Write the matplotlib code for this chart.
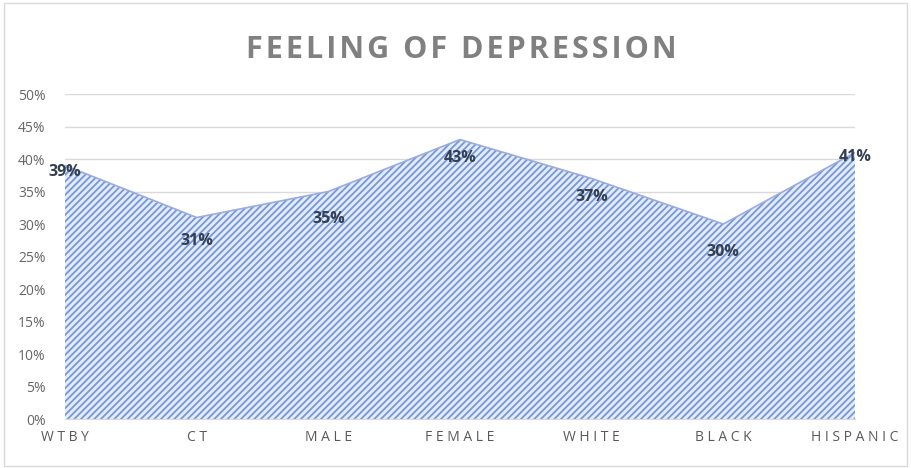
import numpy as np
import matplotlib.pyplot as plt
from matplotlib import rcParams
from matplotlib.patches import Rectangle

rcParams['font.family'] = ['Open Sans', 'DejaVu Sans']
rcParams['hatch.linewidth'] = 1.3

categories = ['WTBY', 'CT', 'MALE', 'FEMALE', 'WHITE', 'BLACK', 'HISPANIC']
values = [0.39, 0.31, 0.35, 0.43, 0.37, 0.30, 0.41]
yticks = [0, 0.05, 0.10, 0.15, 0.20, 0.25, 0.30, 0.35, 0.40, 0.45, 0.50]

# label offsets in points (style only)
lab_dy = [-5, -17, -20, -13, -13, -20, -3]

fig = plt.figure(figsize=(9.11, 4.68), dpi=100)
fig.patches.append(Rectangle((0.004, 0.004), 0.992, 0.99, transform=fig.transFigure,
                             fill=False, edgecolor='#d9d9d9', linewidth=1))
ax = fig.add_axes([0.0714, 0.1047, 0.8671, 0.6944])

x = np.arange(len(categories))
ax.fill_between(x, values, 0, facecolor='#e4ebf9', edgecolor='#7497de',
                hatch='/////', linewidth=0, zorder=2)
ax.plot(x, values, color='#9aabdf', lw=1.2, zorder=3)

for i, v in enumerate(values):
    ax.annotate(f'{v*100:.0f}%', (x[i], v), xytext=(0, lab_dy[i]), textcoords='offset points',
                ha='center', va='center', fontsize=11.5, fontweight='bold', color='#333f4f', zorder=4)

ax.set_xlim(0, len(categories) - 1)
ax.set_ylim(0, 0.5)
ax.set_yticks(yticks)
ax.set_yticklabels([f'{t*100:.0f}%' for t in yticks], fontsize=10, color='#666666')
ax.set_xticks(x)
ax.set_xticklabels(['\u2009\u200a'.join(c) for c in categories], fontsize=10, color='#595959')
ax.tick_params(length=0, pad=8)
ax.tick_params(axis='y', pad=14)
ax.grid(axis='y', color='#d9d9d9', lw=1, zorder=0)
for s in ['top', 'right', 'left']:
    ax.spines[s].set_visible(False)
ax.spines['bottom'].set_color('#d9d9d9')

fig.text(0.506, 0.894, '\u200a'.join('FEELING OF DEPRESSION'), ha='center', va='center',
         fontsize=22, fontweight='bold', color='#808080')

fig.savefig('out.png', dpi=100)
